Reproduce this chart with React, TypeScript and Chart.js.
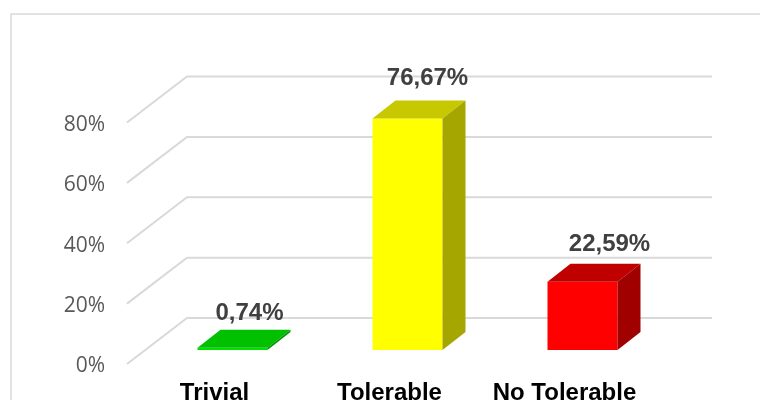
import React, { useEffect, useRef } from "react";
import { Chart, registerables } from "chart.js";

Chart.register(...registerables);

const categories = ["Trivial", "Tolerable", "No Tolerable"];
const shares = [0.74, 76.67, 22.59];
const valueLabels = ["0,74%", "76,67%", "22,59%"];
const frontColors = ["#00e000", "#ffff00", "#ff0000"];
const topColors = ["#00c000", "#c8c800", "#c00000"];
const sideColors = ["#009800", "#a6a600", "#a00000"];
const axisTicks = [0, 20, 40, 60, 80];

// Perspective of the box: wall depth and the depth at which the bars stand.
const WALL_DX = 60;
const WALL_DY = 46;
const BAR_DX = 18;
const BAR_DY = 14;
const SIDE_DX = 23;
const SIDE_DY = 18;
const TICK_DROP = 2.5;
const LABEL_SHIFT = [
  { x: 17, y: -34 },
  { x: 20, y: -40 },
  { x: 27, y: -37 },
];

const wallPlugin = {
  id: "wall",
  afterLayout(chart: any) {
    // Sit the value-axis labels level with the front end of each wall line.
    for (const item of chart.scales.y.getLabelItems(chart.chartArea)) {
      item.options.translation[1] += TICK_DROP;
    }
  },
  beforeDatasetsDraw(chart: any) {
    const { ctx, chartArea, scales } = chart;
    ctx.save();
    ctx.strokeStyle = "#d9d9d9";
    ctx.lineWidth = 2;
    for (const value of axisTicks) {
      const y = scales.y.getPixelForValue(value);
      ctx.beginPath();
      ctx.moveTo(chartArea.left, y);
      ctx.lineTo(chartArea.left + WALL_DX, y - WALL_DY);
      ctx.lineTo(chartArea.right + WALL_DX, y - WALL_DY);
      ctx.stroke();
    }
    ctx.restore();
    // The bars stand partway into the box, so shift their plane back.
    ctx.save();
    ctx.translate(BAR_DX, -BAR_DY);
  },
  afterDatasetsDraw(chart: any) {
    const { ctx } = chart;
    const bars = chart.getDatasetMeta(0).data;
    bars.forEach((bar: any, i: number) => {
      const half = bar.width / 2;
      const l = bar.x - half;
      const r = bar.x + half;
      const t = bar.y;
      const b = bar.base;
      ctx.fillStyle = topColors[i];
      ctx.beginPath();
      ctx.moveTo(l, t);
      ctx.lineTo(l + SIDE_DX, t - SIDE_DY);
      ctx.lineTo(r + SIDE_DX, t - SIDE_DY);
      ctx.lineTo(r, t);
      ctx.closePath();
      ctx.fill();
      ctx.fillStyle = sideColors[i];
      ctx.beginPath();
      ctx.moveTo(r, t);
      ctx.lineTo(r + SIDE_DX, t - SIDE_DY);
      ctx.lineTo(r + SIDE_DX, b - SIDE_DY);
      ctx.lineTo(r, b);
      ctx.closePath();
      ctx.fill();
    });
    ctx.restore();

    ctx.save();
    ctx.font = "bold 24px 'Liberation Sans'";
    ctx.fillStyle = "#404040";
    ctx.textAlign = "center";
    ctx.textBaseline = "middle";
    bars.forEach((bar: any, i: number) => {
      ctx.fillText(
        valueLabels[i],
        bar.x + BAR_DX + LABEL_SHIFT[i].x,
        bar.y - BAR_DY + LABEL_SHIFT[i].y
      );
    });
    ctx.restore();
  },
};

const framePlugin = {
  id: "frame",
  beforeDraw(chart: any) {
    const { ctx } = chart;
    ctx.save();
    ctx.fillStyle = "#ffffff";
    ctx.fillRect(0, 0, chart.width, chart.height);
    ctx.strokeStyle = "#d9d9d9";
    ctx.lineWidth = 1.5;
    ctx.strokeRect(11, 14, 800, 420);
    ctx.restore();
  },
};

export default function App() {
  const canvasRef = useRef<HTMLCanvasElement>(null);

  useEffect(() => {
    document.body.style.margin = "0";
    const chart = new Chart(canvasRef.current!, {
      type: "bar",
      data: {
        labels: categories,
        datasets: [
          {
            data: shares,
            backgroundColor: frontColors,
            barPercentage: 0.4,
            categoryPercentage: 1,
            clip: false,
          },
        ],
      },
      plugins: [framePlugin, wallPlugin],
      options: {
        animation: false,
        responsive: false,
        layout: { padding: { left: 0, right: 108, top: 122.5, bottom: 0 } },
        plugins: { legend: { display: false }, tooltip: { enabled: false } },
        scales: {
          x: {
            grid: { display: false },
            border: { display: false },
            ticks: {
              color: "#000000",
              padding: 7,
              maxRotation: 0,
              autoSkip: false,
              font: { family: "'Liberation Sans'", size: 24, weight: "bold" },
            },
            afterFit(scale: any) {
              scale.height = 36;
            },
          },
          y: {
            min: 0,
            max: 80,
            grid: { display: false, drawTicks: false },
            border: { display: false },
            afterBuildTicks(scale: any) {
              scale.ticks = axisTicks.map((value) => ({ value }));
            },
            ticks: {
              color: "#595959",
              padding: 22,
              font: { family: "'Open Sans'", size: 21 },
              callback: (v: any) => `${v}%`,
            },
            afterFit(scale: any) {
              scale.width = 127;
            },
          },
        },
      } as any,
    });
    return () => chart.destroy();
  }, []);

  return <canvas ref={canvasRef} width={760} height={400} style={{ display: "block" }} />;
}
